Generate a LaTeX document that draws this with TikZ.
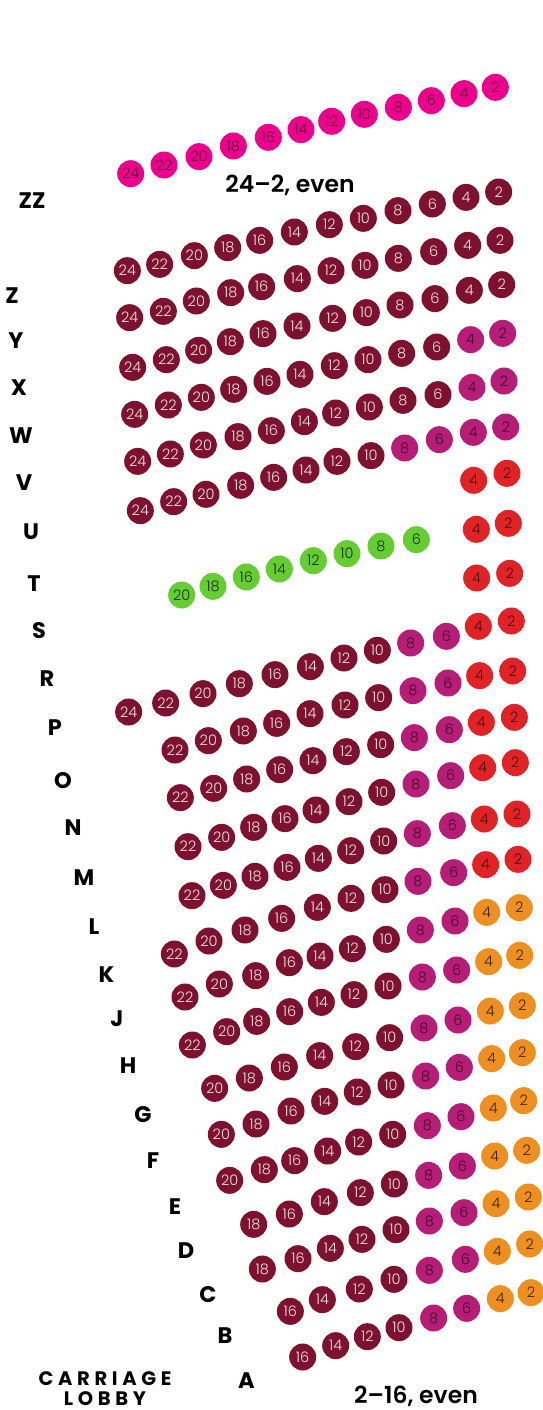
\documentclass[tikz,border=0pt]{standalone}
\usepackage{fontspec}
\setmainfont{Poppins}
\newfontfamily\seatfont{Poppins Light}
\newfontfamily\lobbyfont[LetterSpace=24]{Poppins Bold}
\newfontfamily\labelfont{Poppins SemiBold}
\newfontfamily\rowfont{Poppins Bold}
\definecolor{cm}{HTML}{7D112F}
\definecolor{cv}{HTML}{B51D76}
\definecolor{cp}{HTML}{EC008C}
\definecolor{cr}{HTML}{DF2327}
\definecolor{co}{HTML}{EE9021}
\definecolor{cg}{HTML}{65CC32}
\tikzset{
  x=1pt,y=-1pt,
  seat/.style={circle,inner sep=0pt,minimum size=27pt,font=\seatfont\fontsize{14.5}{14.5}\selectfont},
  seatm/.style={seat,fill=cm,text=white!88!cm},
  seatv/.style={seat,fill=cv,text=cv!38!black},
  seatp/.style={seat,fill=cp,text=cp!38!black},
  seatr/.style={seat,fill=cr,text=cr!35!black},
  seato/.style={seat,fill=co,text=co!25!black},
  seatg/.style={seat,fill=cg,text=cg!25!black},
  rowlabel/.style={inner sep=0pt,text=black,font=\rowfont\fontsize{22.5}{22.5}\selectfont},
  rangelabel/.style={inner sep=0pt,text=black,font=\labelfont\fontsize{23.5}{23.5}\selectfont},
  lobby/.style={inner sep=0pt,text=black,font=\lobbyfont\fontsize{19.5}{19.5}\selectfont}
}
% #1 row name, #2 y offset of the crop, #3 list seat/X/Y/colour (crop coordinates, 3x)
\newcommand{\seatrow}[3]{%
  \foreach \n/\xx/\yy/\c in {#3}{%
    \pgfmathsetmacro{\px}{100+\xx/3}%
    \pgfmathsetmacro{\py}{#2+\yy/3}%
    \node[seat\c] (#1-\n) at (\px,\py) {\n};%
  }%
}
\begin{document}
\begin{tikzpicture}
\useasboundingbox (0,0) rectangle (543,1410);
\seatrow{ZZ}{60}{24/92/341/p,22/192/315/p,20/297/290/p,18/400/258/p,16/505/232/p,14/603/209/p,12/695/184/p,10/793/163/p,8/895/142/p,6/994/122/p,4/1092/101/p,2/1186/82/p}
\seatrow{Z}{60}{24/82/632/m,22/179/613/m,20/283/587/m,18/383/563/m,16/479/541/m,14/583/516/m,12/688/494/m,10/790/475/m,8/894/452/m,6/997/432/m,4/1098/412/m,2/1196/396/m}
\seatrow{Y}{60}{16/485/680/m,14/592/656/m,12/693/632/m,10/795/616/m,8/895/595/m,6/1001/575/m,4/1103/556/m,2/1200/541/m}
\seatrow{Y}{290}{24/89/83/m,22/190/64/m,20/289/33/m,18/392/8/m}
\seatrow{X}{290}{24/98/232/m,22/199/209/m,20/296/181/m,18/391/155/m,16/489/131/m,14/591/108/m,12/698/85/m,10/799/68/m,8/900/45/m,6/1005/26/m,4/1108/1/m,2/1205/-16/m}
\seatrow{W}{290}{24/104/373/m,22/205/345/m,20/304/322/m,18/401/298/m,16/501/274/m,14/600/253/m,12/703/227/m,10/804/209/m,8/905/190/m,6/1010/171/m,4/1112/149/v,2/1208/130/v}
\seatrow{V}{290}{24/113/514/m,22/211/492/m,20/310/465/m,18/414/440/m,16/514/422/m,14/613/395/m,12/707/369/m,10/808/351/m,8/909/331/m,6/1014/314/m,4/1116/292/v,2/1212/273/v}
\seatrow{U}{290}{24/121/662/m,22/221/635/m,20/318/613/m,18/422/586/m,16/521/562/m,14/618/540/m,12/711/514/m,10/813/497/m,8/914/474/v,6/1018/449/v,4/1120/427/v,2/1217/411/v}
\seatrow{T}{290}{4/1121/571/r,2/1221/550/r}
\seatrow{S}{510}{4/1129/58/r,2/1225/40/r}
\seatrow{G2}{510}{20/245/255/g,18/339/229/g,16/439/201/g,14/538/177/g,12/640/152/g,10/741/131/g,8/843/108/g,6/949/89/g}
\seatrow{R}{510}{4/1130/204/r,2/1229/190/r}
\seatrow{P}{510}{24/86/606/m,22/197/579/m,20/309/551/m,18/418/521/m,16/525/494/m,14/631/470/m,12/732/444/m,10/832/421/m,8/932/399/v,6/1039/379/v,4/1135/349/r,2/1234/333/r}
\seatrow{O}{510}{22/225/720/m,20/325/692/m,18/430/663/m,16/530/640/m,14/630/611/m,12/735/585/m,10/836/563/m,8/939/542/v,6/1044/519/v,4/1139/497/r,2/1238/483/r}
\seatrow{N}{730}{22/241/203/m,20/341/175/m,18/440/147/m,16/539/119/m,14/639/92/m,12/739/65/m,10/842/44/m,8/943/23/v,6/1048/-1/v,4/1144/-23/r,2/1243/-38/r}
\seatrow{M}{730}{22/264/350/m,20/365/322/m,18/461/292/m,16/555/266/m,14/648/240/m,12/747/215/m,10/845/187/m,8/948/162/v,6/1052/137/v,4/1148/113/r,2/1246/98/r}
\seatrow{L}{730}{22/276/497/m,20/370/466/m,18/465/439/m,16/561/412/m,14/655/385/m,12/752/362/m,10/851/333/m,8/952/311/v,6/1057/287/v,4/1153/267/r,2/1251/252/r}
\seatrow{K}{730}{22/223/672/m,20/327/633/m,18/435/600/m,16/545/565/m,14/652/532/m,12/753/505/m,10/855/479/m,8/954/454/v,6/1061/428/v,4/1157/404/r,2/1254/388/r}
\seatrow{J}{950}{22/255/141/m,20/358/102/m,18/467/77/m,16/568/38/m,14/660/18/m,12/757/-4/m,10/859/-32/m,8/961/-60/v,6/1065/-87/v,4/1160/-113/o,2/1258/-127/o}
\seatrow{H}{950}{22/277/285/m,20/380/245/m,18/470/214/m,16/569/185/m,14/664/157/m,12/762/134/m,10/864/108/m,8/967/81/v,6/1070/60/v,4/1166/35/o,2/1259/16/o}
\seatrow{Ga}{950}{20/344/415/m,18/448/384/m,16/553/351/m,14/659/317/m,12/767/290/m,10/869/263/m,8/972/234/v,6/1074/210/v,4/1171/183/o,2/1267/167/o}
\seatrow{F}{950}{20/364/553/m,18/468/522/m,16/573/483/m,14/674/454/m,12/772/426/m,10/873/405/m,8/977/378/v,6/1078/352/v,4/1175/326/o,2/1267/308/o}
\seatrow{E}{950}{20/389/691/m,18/493/659/m,16/584/632/m,14/683/603/m,12/776/576/m,10/878/553/m,8/982/527/v,6/1083/500/v,4/1180/474/o,2/1271/452/o}
\seatrow{D}{1170}{18/461/163/m,16/568/132/m,14/673/95/m,12/781/68/m,10/883/42/m,8/986/16/v,6/1087/-12/v,4/1184/-42/o,2/1280/-59/o}
\seatrow{C}{1170}{18/487/297/m,16/594/266/m,14/691/235/m,12/786/208/m,10/888/179/m,8/988/153/v,6/1092/128/v,4/1188/101/o,2/1285/81/o}
\seatrow{B}{1170}{16/571/424/m,14/667/389/m,12/778/357/m,10/882/328/m,8/988/301/v,6/1096/268/v,4/1192/244/o,2/1289/222/o}
\seatrow{A}{1170}{16/608/561/m,14/707/527/m,12/802/500/m,10/897/473/m,8/1001/444/v,6/1100/415/v,4/1201/386/o,2/1293/368/o}
\foreach \t/\x/\y in {ZZ/32/200.5,Z/12/295.5,Y/16/340.5,X/19/387.5,W/21/435.5,V/24/482.5,U/31/531.5,T/34/583.5,S/39/630.5,R/47/678.5,P/55/727.5,O/63/780.5,N/73/827.5,M/84/877.5,L/94/926.5,K/106.5/974.5,J/117/1018.5,H/128/1065.5,G/143/1114.5,F/153/1160.5,E/175/1206.5,D/186/1250.5,C/208/1294.5,B/225/1335.5,A/246.5/1380.5}{
  \node[rowlabel] (label\t) at (\x,\y) {\t};
}
\node[rangelabel] (rangeTop) at (290,185.5) {24–2, even};
\node[rangelabel] (rangeBottom) at (416,1396.5) {2–16, even};
\node[lobby] (lobbyA) at (105,1379) {CARRIAGE};
\node[lobby] (lobbyB) at (105,1398.5) {LOBBY};
\end{tikzpicture}
\end{document}
